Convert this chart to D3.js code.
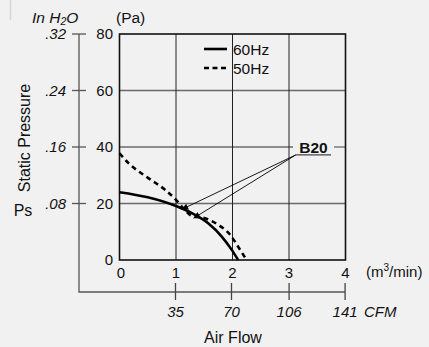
<!DOCTYPE html>
<html>
<head>
<meta charset="utf-8">
<script src="https://cdn.jsdelivr.net/npm/d3@7"></script>
<style>
  html, body { margin: 0; padding: 0; background: #f1f1f1; }
  svg { display: block; font-family: "Liberation Sans", Arial, Helvetica, sans-serif; }
</style>
</head>
<body>
<svg id="chart" width="429" height="347"></svg>
<script>
// Fan performance curves: static pressure (Pa) against air flow (m3/min)
const flow60 = [0, 0.5, 1.0, 1.28, 1.57, 1.81, 1.99, 2.10];
const ps60   = [24.0, 22.2, 19.1, 16.6, 13.0, 8.3, 3.5, 0];
const flow50 = [0, 0.16, 0.51, 0.81, 1.0, 1.13, 1.28, 1.51, 1.75, 1.96, 2.10, 2.25];
const ps50   = [37.8, 34.3, 29.0, 24.8, 21.3, 18.3, 15.6, 14.8, 12.4, 8.9, 4.7, 0];

const flowTicks = [0, 1, 2, 3, 4];
const paTicks = [0, 20, 40, 60, 80];
const inH2OTicks = [".32", ".24", ".16", ".08"];
const inH2OAt = [80, 60, 40, 20];
const cfmTicks = [35, 70, 106, 141];
const seriesNames = ["60Hz", "50Hz"];

// Model label and the two operating points it points at
const modelName = "B20";
const labelAnchor = [3.12, 37.2];
const arrowTargets = [[1.10, 17.9], [1.31, 14.8]];

const CFM_PER_M3MIN = 35.3147;

const svg = d3.select("#chart");
const x = d3.scaleLinear().domain([0, 4]).range([119.5, 345.5]);
const y = d3.scaleLinear().domain([0, 80]).range([260, 34]);

// Grid
const grid = svg.append("g");
grid.selectAll("line.h").data([20, 60]).join("line")
  .attr("x1", x(0)).attr("x2", x(4))
  .attr("y1", d => y(d)).attr("y2", d => y(d))
  .attr("stroke", "#6a6a6a").attr("stroke-width", 1.3);
// 40 Pa line is broken where the model label sits
grid.append("line").attr("x1", x(0)).attr("x2", 293)
  .attr("y1", y(40)).attr("y2", y(40)).attr("stroke", "#6a6a6a").attr("stroke-width", 1.3);
grid.append("line").attr("x1", 334).attr("x2", x(4))
  .attr("y1", y(40)).attr("y2", y(40)).attr("stroke", "#6a6a6a").attr("stroke-width", 1.3);
grid.selectAll("line.v").data([1, 2, 3]).join("line")
  .attr("x1", d => x(d)).attr("x2", d => x(d))
  .attr("y1", y(0)).attr("y2", y(80))
  .attr("stroke", "#222").attr("stroke-width", 1);

// Frame
svg.append("rect")
  .attr("x", x(0)).attr("y", y(80))
  .attr("width", x(4) - x(0)).attr("height", y(0) - y(80))
  .attr("fill", "none").attr("stroke", "#111").attr("stroke-width", 1.6);

// Pa tick labels
svg.append("g").selectAll("text").data(paTicks).join("text")
  .attr("x", 113).attr("y", d => y(d)).attr("dy", "0.36em")
  .attr("text-anchor", "end").attr("font-size", 15).attr("fill", "#111")
  .text(d => d);

// m3/min tick labels
svg.append("g").selectAll("text").data(flowTicks).join("text")
  .attr("x", d => x(d) + (d === 0 ? 1.5 : 0)).attr("y", 277.5)
  .attr("text-anchor", "middle").attr("font-size", 15).attr("fill", "#111")
  .text(d => d);

// Secondary in H2O axis on the left, joined to the CFM axis below
const axX = 79, cfmY = 292;
svg.append("path")
  .attr("d", `M${axX},${y(80)}V${cfmY}H${x(141 / CFM_PER_M3MIN)}`)
  .attr("fill", "none").attr("stroke", "#555").attr("stroke-width", 1.3);
svg.append("g").selectAll("line").data(inH2OAt).join("line")
  .attr("x1", axX - 7).attr("x2", axX + 7)
  .attr("y1", d => y(d)).attr("y2", d => y(d))
  .attr("stroke", "#555").attr("stroke-width", 1.3);
svg.append("g").selectAll("text").data(inH2OTicks).join("text")
  .attr("x", 66).attr("y", (d, i) => y(inH2OAt[i])).attr("dy", "0.36em")
  .attr("text-anchor", "end").attr("font-size", 15).attr("font-style", "italic").attr("fill", "#111")
  .text(d => d);

svg.append("g").selectAll("line").data(cfmTicks).join("line")
  .attr("x1", d => x(d / CFM_PER_M3MIN)).attr("x2", d => x(d / CFM_PER_M3MIN))
  .attr("y1", 283).attr("y2", 300)
  .attr("stroke", "#444").attr("stroke-width", 1.3);
svg.append("g").selectAll("text").data(cfmTicks).join("text")
  .attr("x", d => x(d / CFM_PER_M3MIN)).attr("y", 316.5)
  .attr("text-anchor", "middle").attr("font-size", 15).attr("font-style", "italic").attr("fill", "#111")
  .text(d => d);

// Axis titles and units
const t1 = svg.append("text").attr("x", 32).attr("y", 22.5)
  .attr("font-size", 15.5).attr("font-style", "italic").attr("fill", "#111");
t1.append("tspan").text("In H");
t1.append("tspan").attr("font-size", 10.5).attr("dy", 2).text("2");
t1.append("tspan").attr("dy", -2).text("O");
svg.append("text").attr("x", 116).attr("y", 22.5).attr("font-size", 15.5).attr("fill", "#111").text("(Pa)");

const t2 = svg.append("text").attr("x", 366).attr("y", 277).attr("font-size", 15).attr("fill", "#111");
t2.append("tspan").text("(m");
t2.append("tspan").attr("font-size", 10).attr("dy", -6).text("3");
t2.append("tspan").attr("dy", 6).text("/min)");

svg.append("text").attr("x", 364).attr("y", 316.5)
  .attr("font-size", 15).attr("font-style", "italic").attr("fill", "#111").text("CFM");
svg.append("text").attr("x", 233).attr("y", 342.5).attr("text-anchor", "middle")
  .attr("font-size", 16).attr("fill", "#111").text("Air Flow");
svg.append("text").attr("transform", "translate(29.5,138) rotate(-90)")
  .attr("text-anchor", "middle").attr("font-size", 16).attr("fill", "#111").text("Static Pressure");
svg.append("text").attr("x", 23).attr("y", 216).attr("text-anchor", "middle")
  .attr("font-size", 16).attr("fill", "#111").text("Ps");

// Thin mark near the top-left corner
svg.append("line").attr("x1", 10.5).attr("x2", 10.5).attr("y1", 0).attr("y2", 20)
  .attr("stroke", "#d6d6d6").attr("stroke-width", 1.5);

// Curves
const line = d3.line().x(d => x(d[0])).y(d => y(d[1])).curve(d3.curveMonotoneX);
const pts60 = flow60.map((f, i) => [f, ps60[i]]);
const pts50 = flow50.map((f, i) => [f, ps50[i]]);
svg.append("path").attr("d", line(pts50)).attr("fill", "none")
  .attr("stroke", "#000").attr("stroke-width", 2.6).attr("stroke-dasharray", "5,4");
svg.append("path").attr("d", line(pts60)).attr("fill", "none")
  .attr("stroke", "#000").attr("stroke-width", 2.6);

// Legend
const leg = svg.append("g");
seriesNames.forEach((name, i) => {
  const ly = 49 + i * 19;
  leg.append("line").attr("x1", 204).attr("x2", 227).attr("y1", ly).attr("y2", ly)
    .attr("stroke", "#000").attr("stroke-width", 2.6)
    .attr("stroke-dasharray", i === 1 ? "5,3.5" : null);
  leg.append("text").attr("x", 233).attr("y", ly).attr("dy", "0.36em")
    .attr("font-size", 15.5).attr("fill", "#111").text(name);
});

// Model label with leader arrows
svg.append("defs").append("marker")
  .attr("id", "ah").attr("viewBox", "0 0 10 10").attr("refX", 10).attr("refY", 5)
  .attr("markerWidth", 10).attr("markerHeight", 6.5).attr("markerUnits", "userSpaceOnUse")
  .attr("orient", "auto")
  .append("path").attr("d", "M0,0L10,5L0,10Z").attr("fill", "#000");
const ax0 = x(labelAnchor[0]), ay0 = y(labelAnchor[1]);
svg.append("g").selectAll("line").data(arrowTargets).join("line")
  .attr("x1", ax0).attr("y1", ay0)
  .attr("x2", d => x(d[0])).attr("y2", d => y(d[1]))
  .attr("stroke", "#000").attr("stroke-width", 0.9).attr("marker-end", "url(#ah)");
svg.append("line").attr("x1", ax0).attr("x2", 331).attr("y1", ay0).attr("y2", ay0)
  .attr("stroke", "#444").attr("stroke-width", 1.2);
svg.append("text").attr("x", 313.5).attr("y", y(40)).attr("dy", "0.36em")
  .attr("text-anchor", "middle").attr("font-size", 15.5).attr("font-weight", "bold").attr("fill", "#111")
  .text(modelName);
</script>
</body>
</html>
